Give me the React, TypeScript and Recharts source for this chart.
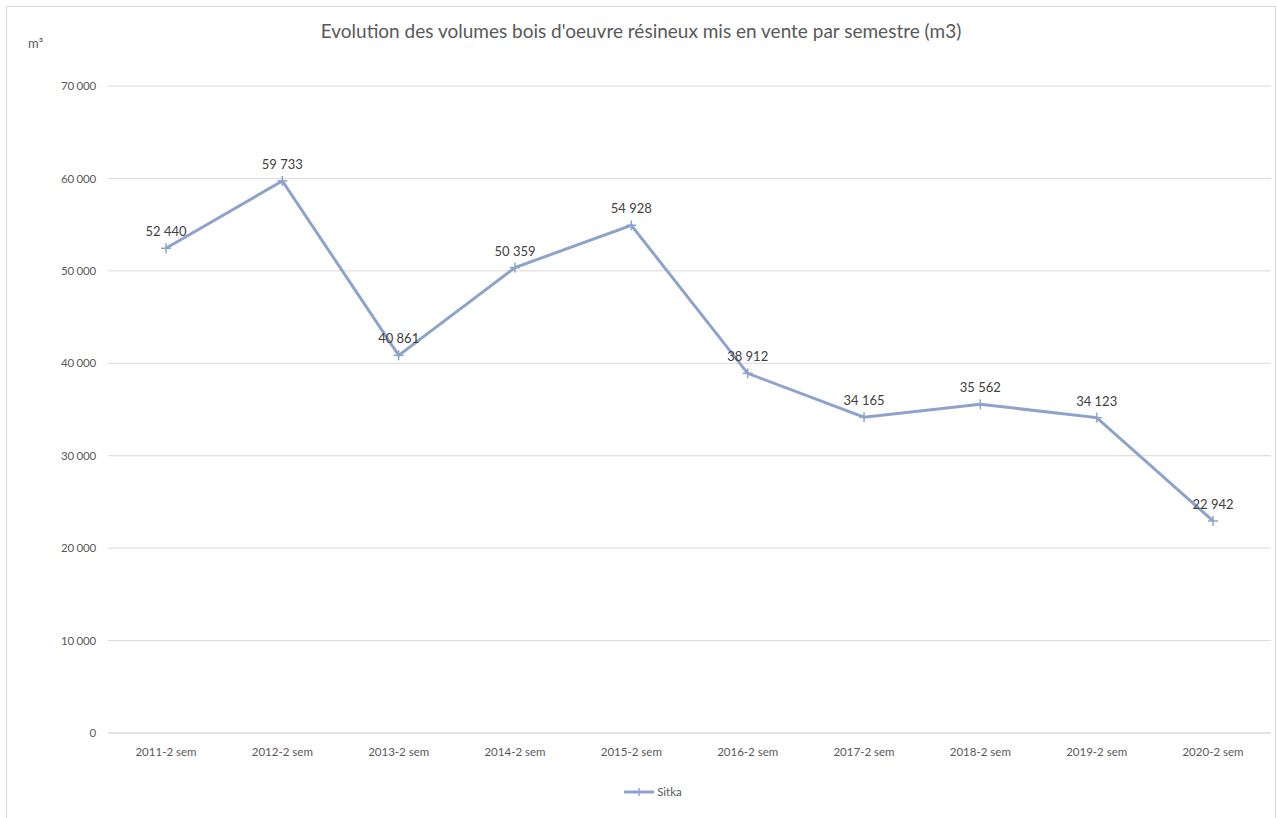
import { LineChart, Line, XAxis, YAxis, CartesianGrid, Legend, LabelList } from "recharts";

const categories = [
  "2011-2 sem",
  "2012-2 sem",
  "2013-2 sem",
  "2014-2 sem",
  "2015-2 sem",
  "2016-2 sem",
  "2017-2 sem",
  "2018-2 sem",
  "2019-2 sem",
  "2020-2 sem",
];
const sitka = [52440, 59733, 40861, 50359, 54928, 38912, 34165, 35562, 34123, 22942];
const yTicks = [0, 10000, 20000, 30000, 40000, 50000, 60000, 70000];

const data = categories.map((name, i) => ({ name, sitka: sitka[i] }));

const LINE = "#8ea3cb";
const FONT = "Lato, Calibri, sans-serif";

const fmt = (v: number) => String(v).replace(/\B(?=(\d{3})+(?!\d))/g, " ");

// little "+" marker like the original
const PlusDot = (props: any) => {
  const { cx, cy } = props;
  if (cx == null || cy == null) return null;
  return (
    <g>
      <line x1={cx - 5} y1={cy} x2={cx + 5} y2={cy} stroke={LINE} strokeWidth={1.5} />
      <line x1={cx} y1={cy - 5} x2={cx} y2={cy + 5} stroke={LINE} strokeWidth={1.5} />
    </g>
  );
};

const LegendContent = () => (
  <div style={{ display: "flex", justifyContent: "center", alignItems: "center", fontFamily: FONT, fontSize: 11.5, color: "#595959", marginLeft: -14 }}>
    <svg width={32} height={10}>
      <line x1={1} y1={5} x2={31} y2={5} stroke={LINE} strokeWidth={3} />
      <line x1={16} y1={1} x2={16} y2={9} stroke={LINE} strokeWidth={1.5} />
    </svg>
    <span style={{ marginLeft: 2 }}>Sitka</span>
  </div>
);

export default function App() {
  return (
    <div style={{ position: "absolute", left: 0, top: 0, width: 1278, height: 818, background: "#fff", overflow: "hidden" }}>
      {/* outer frame */}
      <div style={{ position: "absolute", left: 6, top: 6, width: 1268, height: 830, border: "1px solid #d9d9d9" }} />

      {/* title */}
      <div
        style={{
          position: "absolute",
          left: 0,
          width: 1282,
          top: 19,
          textAlign: "center",
          fontFamily: FONT,
          fontSize: 19,
          color: "#595959",
        }}
      >
        Evolution des volumes bois d'oeuvre résineux mis en vente par semestre (m3)
      </div>
      <div style={{ position: "absolute", left: 28, top: 35, fontFamily: FONT, fontSize: 13, color: "#595959" }}>m³</div>

      <div style={{ position: "absolute", left: 0, top: 0 }}>
        <LineChart width={1278} height={818} data={data} margin={{ top: 86, right: 7, left: 48, bottom: 3 }}>
          <CartesianGrid vertical={false} stroke="#d9d9d9" />
          <XAxis
            dataKey="name"
            height={52}
            padding={{ left: 58, right: 58 }}
            axisLine={{ stroke: "#d9d9d9" }}
            tickLine={false}
            tickMargin={9}
            tick={{ fontSize: 11.5, fill: "#595959", fontFamily: FONT }}
          />
          <YAxis
            width={60}
            domain={[0, 70000]}
            ticks={yTicks}
            axisLine={false}
            tickLine={false}
            tickSize={0}
            tickMargin={12}
            tickFormatter={(v: number) => fmt(v)}
            tick={{ fontSize: 11.5, fill: "#595959", fontFamily: FONT, letterSpacing: -0.2 }}
          />
          <Legend verticalAlign="bottom" height={30} content={<LegendContent />} />
          <Line
            type="linear"
            dataKey="sitka"
            name="Sitka"
            stroke={LINE}
            strokeWidth={3}
            dot={<PlusDot />}
            activeDot={false}
            isAnimationActive={false}
          >
            <LabelList
              dataKey="sitka"
              position="top"
              offset={12}
              formatter={(v: any) => fmt(Number(v))}
              style={{ fontSize: 13, fill: "#404040", fontFamily: FONT }}
            />
          </Line>
        </LineChart>
      </div>
    </div>
  );
}
